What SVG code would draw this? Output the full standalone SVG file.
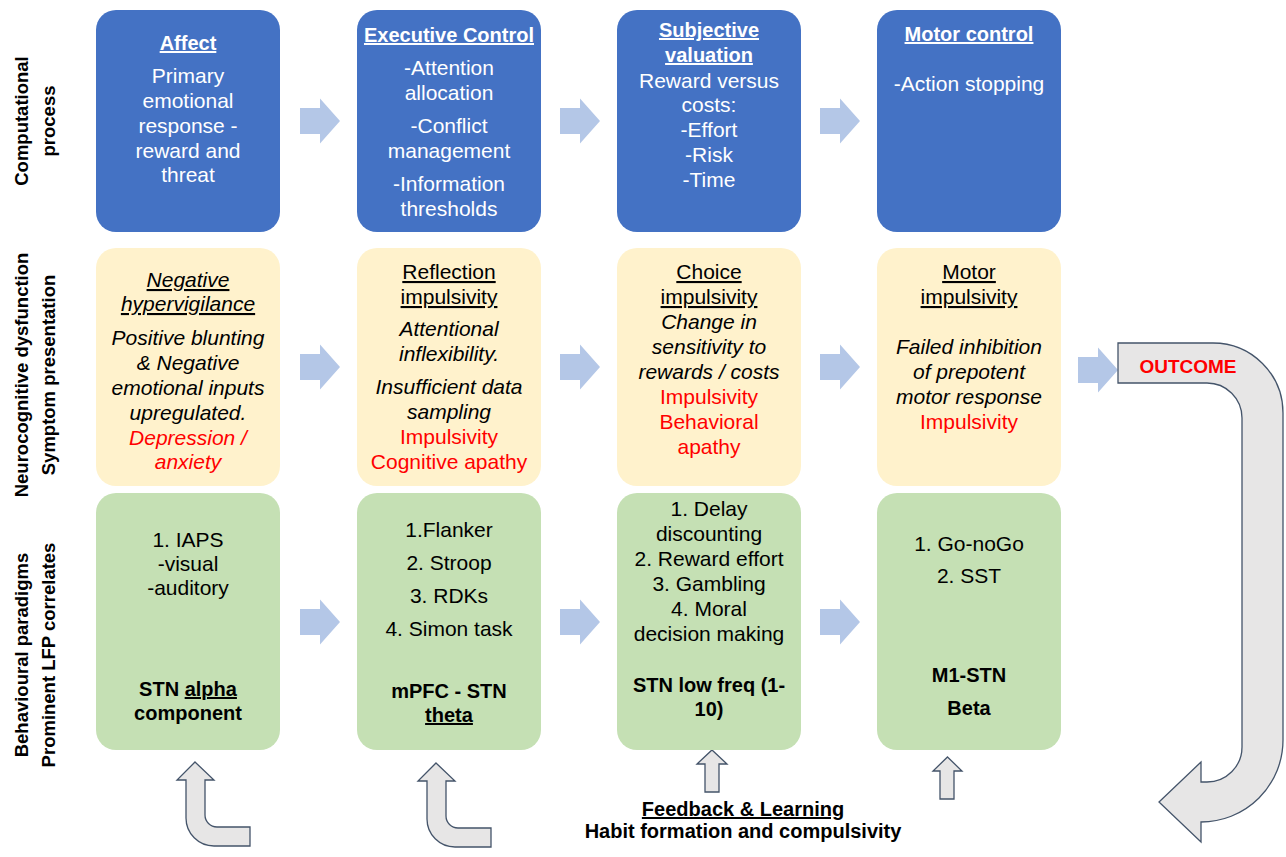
<svg xmlns="http://www.w3.org/2000/svg" width="1286" height="857" viewBox="0 0 1286 857">
<style>
text{font-family:"Liberation Sans",Arial,sans-serif;font-size:21px;text-anchor:middle;fill:#000}
.w{fill:#fff}
.b{font-weight:bold;font-size:20px}
.i{font-style:italic}
.u{text-decoration:underline}
.r{fill:#f00}
.lab{font-weight:bold;font-size:18.5px}
.blue{fill:#4472C4}
.yel{fill:#FFF2CC}
.grn{fill:#C5E0B4}
.ga{fill:#E7E6E6;stroke:#44546A;stroke-width:1.3;stroke-linejoin:miter}
</style>
<defs>
<path id="ba" d="M0,-13 H20 V-22.5 L40,0 L20,22.5 V13 H0 Z" fill="#B4C7E7"/>
</defs>
<rect width="1286" height="857" fill="#fff"/>

<g id="row-labels">
<text class="lab" transform="translate(28,121) rotate(-90)">Computational</text>
<text class="lab" transform="translate(55,121) rotate(-90)">process</text>
<text class="lab" transform="translate(28,375) rotate(-90)">Neurocognitive dysfunction</text>
<text class="lab" transform="translate(55,375) rotate(-90)">Symptom presentation</text>
<text class="lab" transform="translate(28,655) rotate(-90)">Behavioural paradigms</text>
<text class="lab" transform="translate(55,655) rotate(-90)">Prominent LFP correlates</text>
</g>

<g id="connectors">
<use href="#ba" x="300" y="121"/>
<use href="#ba" x="560" y="121"/>
<use href="#ba" x="820" y="121"/>
<use href="#ba" x="300" y="367"/>
<use href="#ba" x="560" y="367"/>
<use href="#ba" x="820" y="367"/>
<use href="#ba" x="1078" y="370"/>
<use href="#ba" x="300" y="622"/>
<use href="#ba" x="560" y="622"/>
<use href="#ba" x="820" y="622"/>
<path class="ga" d="M1118,343 H1213 A70,70 0 0 1 1283,413 V740 A82,82 0 0 1 1201,822 V842 L1159,802 L1201,762 V782 H1207 A35,35 0 0 0 1242,747 V418 A35,35 0 0 0 1207,383 H1118 Z"/>
<path class="ga" d="M195,762 L214,780 H205 V815 A12,12 0 0 0 217,827 H250 V846 H214 A28,28 0 0 1 186,818 V780 H177 Z"/>
<path class="ga" transform="translate(241,1)" d="M195,762 L214,780 H205 V815 A12,12 0 0 0 217,827 H250 V846 H214 A28,28 0 0 1 186,818 V780 H177 Z"/>
<path class="ga" d="M712,750 L727,764 H719 V792 H705 V764 H697 Z"/>
<path class="ga" d="M947.5,757 L962,771 H954 V799 H940 V771 H933 Z"/>
</g>

<g id="node-affect">
<rect class="blue" x="96" y="10" width="184" height="222" rx="20"/>
<text class="w b u" x="188" y="50">Affect</text>
<text class="w" x="188" y="83">Primary</text>
<text class="w" x="188" y="108">emotional</text>
<text class="w" x="188" y="133">response -</text>
<text class="w" x="188" y="158">reward and</text>
<text class="w" x="188" y="182">threat</text>
</g>

<g id="node-executive-control">
<rect class="blue" x="357" y="10" width="184" height="222" rx="20"/>
<text class="w b u" x="449" y="42">Executive Control</text>
<text class="w" x="449" y="75">-Attention</text>
<text class="w" x="449" y="100">allocation</text>
<text class="w" x="449" y="133">-Conflict</text>
<text class="w" x="449" y="158">management</text>
<text class="w" x="449" y="191">-Information</text>
<text class="w" x="449" y="216">thresholds</text>
</g>

<g id="node-subjective-valuation">
<rect class="blue" x="617" y="10" width="184" height="222" rx="20"/>
<text class="w b u" x="709" y="37">Subjective</text>
<text class="w b u" x="709" y="62">valuation</text>
<text class="w" x="709" y="88">Reward versus</text>
<text class="w" x="709" y="112">costs:</text>
<text class="w" x="709" y="137">-Effort</text>
<text class="w" x="709" y="162">-Risk</text>
<text class="w" x="709" y="187">-Time</text>
</g>

<g id="node-motor-control">
<rect class="blue" x="877" y="10" width="184" height="222" rx="20"/>
<text class="w b u" x="969" y="41">Motor control</text>
<text class="w" x="969" y="91">-Action stopping</text>
</g>

<g id="node-negative-hypervigilance">
<rect class="yel" x="96" y="248" width="184" height="238" rx="20"/>
<text class="i u" x="188" y="287">Negative</text>
<text class="i u" x="188" y="311">hypervigilance</text>
<text class="i" x="188" y="345">Positive blunting</text>
<text class="i" x="188" y="370">&amp; Negative</text>
<text class="i" x="188" y="395">emotional inputs</text>
<text class="i" x="188" y="420">upregulated.</text>
<text class="i r" x="188" y="445">Depression /</text>
<text class="i r" x="188" y="469">anxiety</text>
</g>

<g id="node-reflection-impulsivity">
<rect class="yel" x="357" y="248" width="184" height="238" rx="20"/>
<text class="u" x="449" y="279">Reflection</text>
<text class="u" x="449" y="304">impulsivity</text>
<text class="i" x="449" y="336">Attentional</text>
<text class="i" x="449" y="361">inflexibility.</text>
<text class="i" x="449" y="394">Insufficient data</text>
<text class="i" x="449" y="419">sampling</text>
<text class="r" x="449" y="444">Impulsivity</text>
<text class="r" x="449" y="469">Cognitive apathy</text>
</g>

<g id="node-choice-impulsivity">
<rect class="yel" x="617" y="248" width="184" height="238" rx="20"/>
<text class="u" x="709" y="279">Choice</text>
<text class="u" x="709" y="304">impulsivity</text>
<text class="i" x="709" y="329">Change in</text>
<text class="i" x="709" y="354">sensitivity to</text>
<text class="i" x="709" y="379">rewards / costs</text>
<text class="r" x="709" y="404">Impulsivity</text>
<text class="r" x="709" y="429">Behavioral</text>
<text class="r" x="709" y="454">apathy</text>
</g>

<g id="node-motor-impulsivity">
<rect class="yel" x="877" y="248" width="184" height="238" rx="20"/>
<text class="u" x="969" y="279">Motor</text>
<text class="u" x="969" y="304">impulsivity</text>
<text class="i" x="969" y="354">Failed inhibition</text>
<text class="i" x="969" y="379">of prepotent</text>
<text class="i" x="969" y="404">motor response</text>
<text class="r" x="969" y="429">Impulsivity</text>
</g>

<g id="node-outcome">
<text class="b r" x="1188" y="373" style="font-size:19px">OUTCOME</text>
</g>

<g id="node-iaps">
<rect class="grn" x="96" y="493" width="184" height="257" rx="20"/>
<text x="188" y="547">1. IAPS</text>
<text x="188" y="571">-visual</text>
<text x="188" y="595">-auditory</text>
<text class="b" x="188" y="696">STN <tspan class="u">alpha</tspan></text>
<text class="b" x="188" y="720">component</text>
</g>

<g id="node-flanker">
<rect class="grn" x="357" y="493" width="184" height="257" rx="20"/>
<text x="449" y="537">1.Flanker</text>
<text x="449" y="570">2. Stroop</text>
<text x="449" y="603">3. RDKs</text>
<text x="449" y="636">4. Simon task</text>
<text class="b" x="449" y="698">mPFC - STN</text>
<text class="b u" x="449" y="722">theta</text>
</g>

<g id="node-delay-discounting">
<rect class="grn" x="617" y="493" width="184" height="257" rx="20"/>
<text x="709" y="516">1. Delay</text>
<text x="709" y="541">discounting</text>
<text x="709" y="566">2. Reward effort</text>
<text x="709" y="591">3. Gambling</text>
<text x="709" y="616">4. Moral</text>
<text x="709" y="641">decision making</text>
<text class="b" x="709" y="692">STN low freq (1-</text>
<text class="b" x="709" y="716">10)</text>
</g>

<g id="node-go-nogo">
<rect class="grn" x="877" y="493" width="184" height="257" rx="20"/>
<text x="969" y="551">1. Go-noGo</text>
<text x="969" y="583">2. SST</text>
<text class="b" x="969" y="682">M1-STN</text>
<text class="b" x="969" y="715">Beta</text>
</g>

<g id="node-feedback">
<text class="b u" x="743" y="816">Feedback &amp; Learning</text>
<text class="b" x="743" y="838">Habit formation and compulsivity</text>
</g>
</svg>
